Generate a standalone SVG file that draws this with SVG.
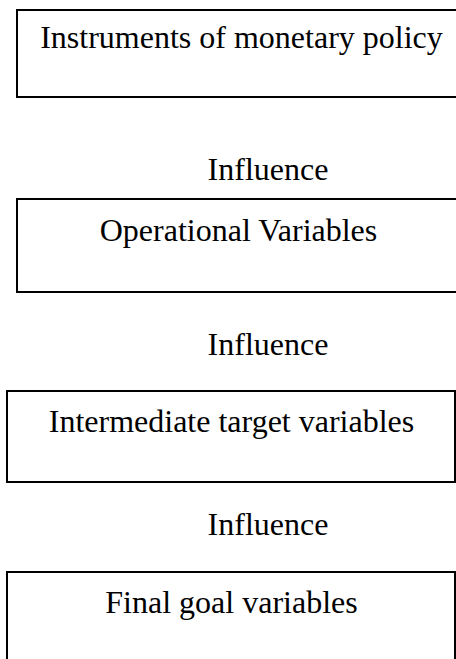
<svg xmlns="http://www.w3.org/2000/svg" width="456" height="659" viewBox="0 0 456 659">
<style>
.box{fill:#fff;stroke:#000;stroke-width:2}
.t{font-family:"Liberation Serif","Times New Roman",serif;font-size:32px;fill:#000;text-anchor:middle}
</style>
<rect width="456" height="659" fill="#fff"/>
<g id="connectors">
<text class="t" x="268" y="180">Influence</text>
<text class="t" x="268" y="355">Influence</text>
<text class="t" x="268" y="535">Influence</text>
</g>
<g id="node1">
<rect class="box" x="17" y="10" width="450" height="87"/>
<text class="t" x="241.5" y="48">Instruments of monetary policy</text>
</g>
<g id="node2">
<rect class="box" x="17" y="199" width="450" height="93"/>
<text class="t" x="238.5" y="241">Operational Variables</text>
</g>
<g id="node3">
<rect class="box" x="7" y="391" width="448" height="91"/>
<text class="t" x="231.5" y="432">Intermediate target variables</text>
</g>
<g id="node4">
<rect class="box" x="7" y="572" width="448" height="100"/>
<text class="t" x="231.5" y="613">Final goal variables</text>
</g>
</svg>
